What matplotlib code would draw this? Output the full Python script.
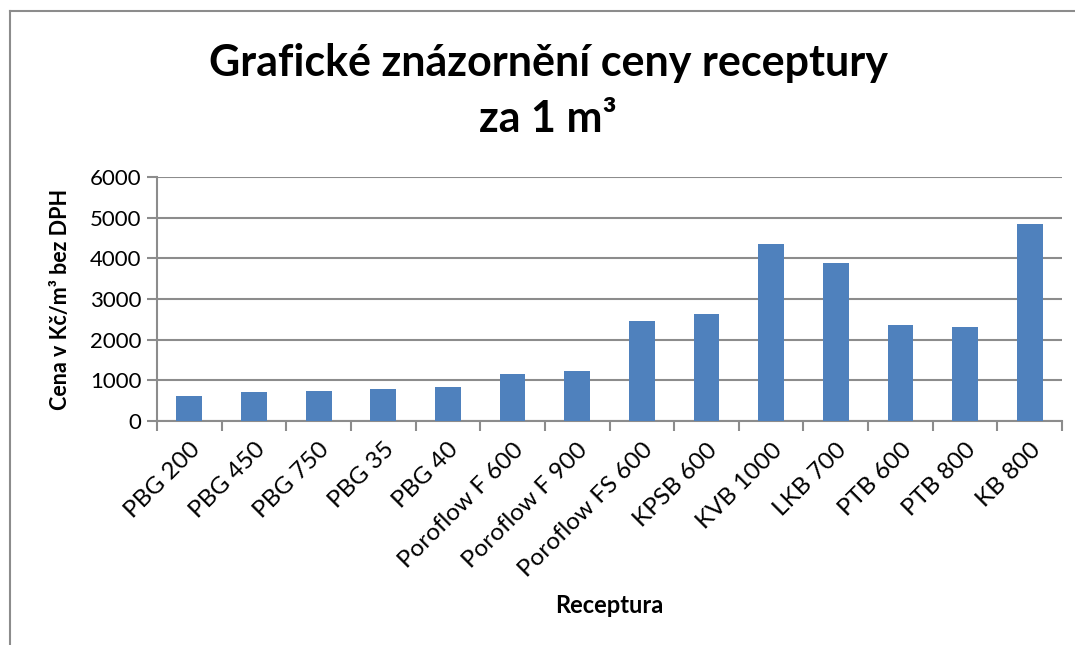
import matplotlib.pyplot as plt
import numpy as np
from matplotlib.lines import Line2D

receptury = ['PBG 200', 'PBG 450', 'PBG 750', 'PBG 35', 'PBG 40',
             'Poroflow F 600', 'Poroflow F 900', 'Poroflow FS 600',
             'KPSB 600', 'KVB 1000', 'LKB 700', 'PTB 600', 'PTB 800', 'KB 800']
cena = [607, 713, 746, 787, 844, 1164, 1238, 2459,
        2623, 4344, 3893, 2352, 2320, 4844]

plt.rcParams['font.family'] = ['Lato', 'DejaVu Sans']

fig = plt.figure(figsize=(10.75, 6.45), dpi=100)
ax = fig.add_axes([0.146, 0.3473, 0.842, 0.3783])

x = np.arange(len(receptury))
ax.bar(x, cena, width=0.40, color='#4F81BD', zorder=3)

ax.set_xlim(-0.5, len(receptury) - 0.5)
ax.set_ylim(0, 6000)
ax.set_yticks(range(0, 6001, 1000))
ax.yaxis.grid(True, color='#8c8c8c', linewidth=1.5, zorder=0)

ax.set_xticks(x)
ax.set_xticklabels(receptury, rotation=45, ha='right', rotation_mode='anchor', fontsize=17.5)
ax.set_xticks(np.arange(-0.5, len(receptury), 1), minor=True)
ax.tick_params(axis='x', which='major', length=0, pad=13)
ax.tick_params(axis='x', which='minor', length=7, width=1.5, color='#8c8c8c')
ax.tick_params(axis='y', length=7, width=1.5, color='#8c8c8c', labelsize=16, pad=4)

for side in ['top', 'right']:
    ax.spines[side].set_visible(False)
for side in ['left', 'bottom']:
    ax.spines[side].set_color('#8c8c8c')
    ax.spines[side].set_linewidth(1.5)

ax.set_ylabel('Cena v Kč/m³ bez DPH', fontsize=15.5, fontweight='bold', labelpad=14)
fig.text(0.567, 0.062, 'Receptura', ha='center', va='center', fontsize=17, fontweight='bold')

fig.text(0.51, 0.903, 'Grafické znázornění ceny receptury', ha='center', va='center',
         fontsize=31, fontweight='bold')
fig.text(0.51, 0.815, 'za 1 m³', ha='center', va='center', fontsize=31, fontweight='bold')

# frame around the chart (left and top visible)
fig.add_artist(Line2D([10 / 1075, 10 / 1075], [0, 1 - 11 / 645], transform=fig.transFigure,
                      color='#8c8c8c', linewidth=1.5))
fig.add_artist(Line2D([10 / 1075, 1], [1 - 11 / 645, 1 - 11 / 645], transform=fig.transFigure,
                      color='#8c8c8c', linewidth=1.5))

fig.savefig('out.png', dpi=100)
